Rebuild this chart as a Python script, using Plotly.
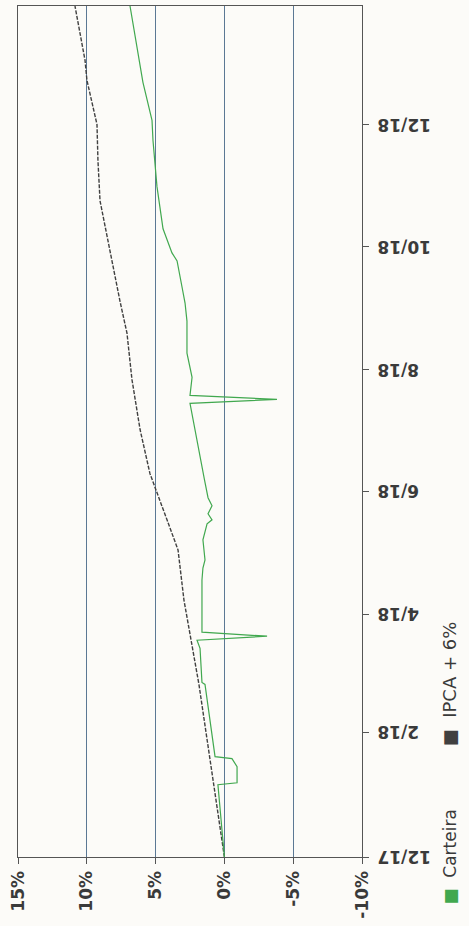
import plotly.graph_objects as go

# ---- data ----
carteira_dates = [
    "2017-12-01", "2018-01-06", "2018-01-07", "2018-01-15", "2018-01-19", "2018-01-20",
    "2018-02-25", "2018-02-26", "2018-03-15", "2018-03-19", "2018-03-21", "2018-03-23",
    "2018-04-04", "2018-04-18", "2018-04-24", "2018-04-28", "2018-05-08", "2018-05-16",
    "2018-05-18", "2018-05-21", "2018-05-25", "2018-05-29", "2018-06-07", "2018-07-15",
    "2018-07-17", "2018-07-19", "2018-07-28", "2018-08-09", "2018-08-25", "2018-09-03",
    "2018-09-11", "2018-09-24", "2018-09-28", "2018-10-03", "2018-10-10", "2018-10-31",
    "2018-11-10", "2018-11-23", "2018-12-03", "2018-12-22", "2019-01-29",
]
carteira_values = [
    0.0, 0.47, -0.92, -0.92, -0.55, 0.68,
    1.41, 1.63, 1.77, 1.99, -3.10, 1.63,
    1.63, 1.63, 1.56, 1.41, 1.56, 1.26,
    0.90, 1.19, 0.90, 1.19, 1.45, 2.50,
    -3.82, 2.50, 2.35, 2.72, 2.72, 2.86,
    3.08, 3.44, 3.81, 4.10, 4.46, 4.90,
    5.04, 5.19, 5.26, 5.92, 6.86,
]

ipca_dates = [
    "2017-12-01", "2018-02-25", "2018-04-08", "2018-05-03", "2018-05-18", "2018-06-01",
    "2018-06-10", "2018-07-02", "2018-07-27", "2018-08-19", "2018-09-04", "2018-10-24",
    "2018-11-13", "2018-12-01", "2018-12-23", "2019-01-02", "2019-01-29",
]
ipca_values = [
    0.0, 1.85, 2.94, 3.37, 4.17, 4.90,
    5.41, 6.13, 6.72, 7.08, 7.59, 9.04,
    9.19, 9.26, 9.99, 10.13, 10.86,
]

value_ticks = [15, 10, 5, 0, -5, -10]
value_tick_labels = ["15%", "10%", "5%", "0%", "-5%", "-10%"]
date_ticks = ["2017-12-01", "2018-02-01", "2018-04-01", "2018-06-01",
              "2018-08-01", "2018-10-01", "2018-12-01"]
date_tick_labels = ["12/17", "2/18", "4/18", "6/18", "8/18", "10/18", "12/18"]
series_names = ["Carteira", "IPCA + 6%"]

GREEN = "#41a84f"
DARK = "#404040"
TEXT = "#3a3a3a"
FONT = "DejaVu Sans"

fig = go.Figure()
fig.add_trace(go.Scatter(
    x=ipca_values, y=ipca_dates, mode="lines", name=series_names[1],
    line=dict(color=DARK, width=1.4, dash="4px,1.5px"), showlegend=False,
))
fig.add_trace(go.Scatter(
    x=carteira_values, y=carteira_dates, mode="lines", name=series_names[0],
    line=dict(color=GREEN, width=1.2), showlegend=False,
))

fig.update_layout(
    width=469, height=926,
    margin=dict(l=18, r=107, t=6, b=69),
    paper_bgcolor="#fcfbf8", plot_bgcolor="#fcfbf8",
    font=dict(family=FONT, color=TEXT, size=17),
    xaxis=dict(
        range=[15, -10], tickvals=value_ticks, ticktext=value_tick_labels,
        tickangle=-90, ticks="outside", ticklen=6, tickcolor="#555",
        showgrid=True, gridcolor="#5b7894", gridwidth=1, zeroline=False,
        showline=True, linecolor="#555", linewidth=1.3, mirror=True,
        tickfont=dict(family=FONT, size=17, color=TEXT, weight="bold"),
    ),
    yaxis=dict(
        type="date", range=["2017-12-01", "2019-01-29"], side="right",
        tickvals=date_ticks, ticktext=[""] * len(date_ticks),
        ticks="outside", ticklen=6, tickcolor="#555",
        showgrid=False, zeroline=False,
        showline=True, linecolor="#555", linewidth=1.3, mirror=True,
    ),
)

# date tick labels, upside down like in the rotated original
for d, lab in zip(date_ticks, date_tick_labels):
    fig.add_annotation(
        x=1, y=d, xref="paper", yref="y", xanchor="left", yanchor="middle",
        xshift=13, text=lab, textangle=180, showarrow=False,
        font=dict(family=FONT, size=17, color=TEXT, weight="bold"),
    )

# legend (rotated, like the rest of the picture)
legend_items = [
    (series_names[0], GREEN, -0.058, 17),
    (series_names[1], DARK, 0.128, 18),
]
for name, col, ypos, size in legend_items:
    fig.add_annotation(
        x=1.255, y=ypos, xref="paper", yref="paper",
        xanchor="center", yanchor="bottom", textangle=-90, showarrow=False,
        text=f'<span style="color:{col}">■</span>  {name}',
        font=dict(family=FONT, size=size, color=TEXT),
    )

fig.write_html(
    "out.html",
    config={"displayModeBar": False},
    post_script="document.body.style.margin='0';",
)
